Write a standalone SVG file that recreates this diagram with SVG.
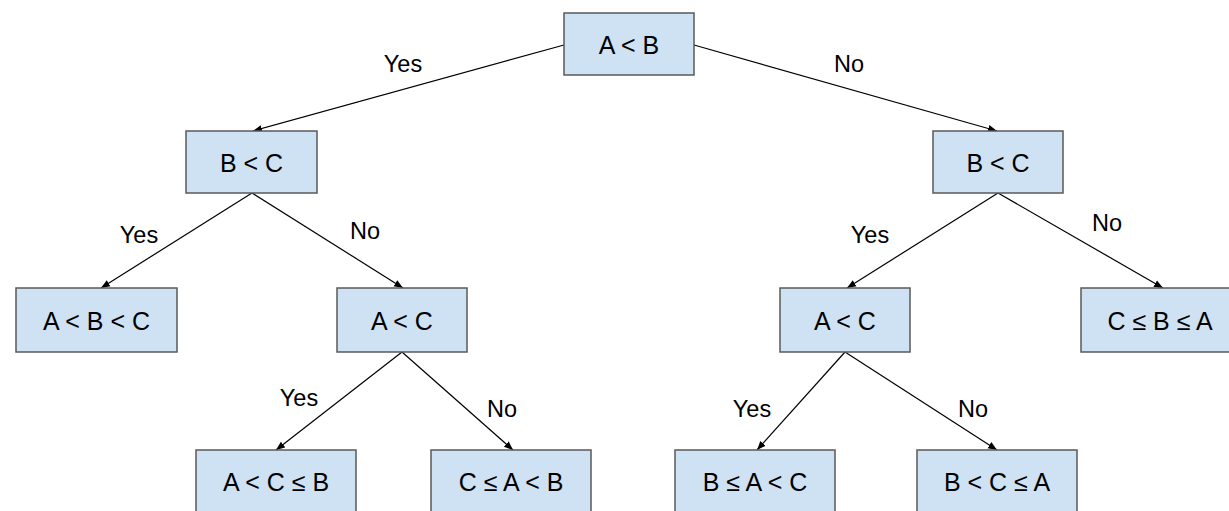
<svg xmlns="http://www.w3.org/2000/svg" width="1229" height="511" viewBox="0 0 1229 511">
<defs>
<marker id="ah" viewBox="0 0 10 10" refX="10" refY="5" markerWidth="9" markerHeight="9" markerUnits="userSpaceOnUse" orient="auto">
<path d="M0,1 L10,5 L0,9 z" fill="#000"/>
</marker>
</defs>
<style>
.box{fill:#cfe2f3;stroke:#595959;stroke-width:1.5}
.t{font-family:"Liberation Sans",Arial,sans-serif;font-size:25px;fill:#000;text-anchor:middle;dominant-baseline:central}
.l{font-family:"Liberation Sans",Arial,sans-serif;font-size:23.5px;fill:#000;text-anchor:middle;dominant-baseline:central}
.e{stroke:#000;stroke-width:1.2;fill:none;marker-end:url(#ah)}
</style>
<rect width="1229" height="511" fill="#fff"/>
<g id="connectors">
<line class="e" x1="564" y1="45" x2="253" y2="131"/>
<line class="e" x1="694" y1="45" x2="997" y2="131"/>
<line class="e" x1="252" y1="193" x2="101" y2="288"/>
<line class="e" x1="252" y1="193" x2="403" y2="288"/>
<line class="e" x1="402" y1="352" x2="276" y2="450"/>
<line class="e" x1="402" y1="352" x2="513" y2="450"/>
<line class="e" x1="998" y1="193" x2="847" y2="288"/>
<line class="e" x1="998" y1="193" x2="1163" y2="288"/>
<line class="e" x1="845" y1="352" x2="757" y2="450"/>
<line class="e" x1="845" y1="352" x2="997" y2="450"/>
<text class="l" x="403" y="64">Yes</text>
<text class="l" x="849" y="64">No</text>
<text class="l" x="139" y="235">Yes</text>
<text class="l" x="365" y="231">No</text>
<text class="l" x="870" y="235">Yes</text>
<text class="l" x="1107" y="223">No</text>
<text class="l" x="299" y="398">Yes</text>
<text class="l" x="502" y="409">No</text>
<text class="l" x="752" y="409">Yes</text>
<text class="l" x="973" y="409">No</text>
</g>
<g id="n1"><rect class="box" x="564" y="13" width="130" height="62"/><text class="t" x="629" y="45">A &lt; B</text></g>
<g id="n2"><rect class="box" x="186" y="131" width="131" height="62"/><text class="t" x="251.5" y="163">B &lt; C</text></g>
<g id="n3"><rect class="box" x="933" y="131" width="130" height="62"/><text class="t" x="998" y="163">B &lt; C</text></g>
<g id="n4"><rect class="box" x="16" y="288" width="161" height="64"/><text class="t" x="96.5" y="321">A &lt; B &lt; C</text></g>
<g id="n5"><rect class="box" x="337" y="288" width="130" height="64"/><text class="t" x="402" y="321">A &lt; C</text></g>
<g id="n6"><rect class="box" x="780" y="288" width="130" height="64"/><text class="t" x="845" y="321">A &lt; C</text></g>
<g id="n7"><rect class="box" x="1081" y="288" width="150" height="64"/><text class="t" x="1160" y="321">C ≤ B ≤ A</text></g>
<g id="n8"><rect class="box" x="196" y="450" width="160" height="64"/><text class="t" x="276" y="482">A &lt; C ≤ B</text></g>
<g id="n9"><rect class="box" x="431" y="450" width="160" height="64"/><text class="t" x="511" y="482">C ≤ A &lt; B</text></g>
<g id="n10"><rect class="box" x="675" y="450" width="160" height="64"/><text class="t" x="755" y="482">B ≤ A &lt; C</text></g>
<g id="n11"><rect class="box" x="917" y="450" width="160" height="64"/><text class="t" x="997" y="482">B &lt; C ≤ A</text></g>
</svg>
